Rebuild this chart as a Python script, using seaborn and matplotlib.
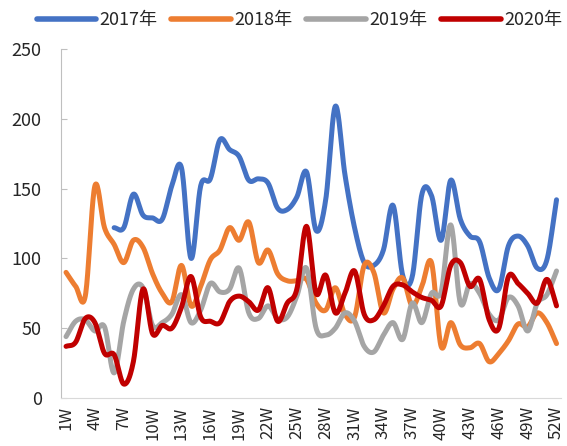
import matplotlib
matplotlib.use("Agg")
import matplotlib.pyplot as plt
import seaborn as sns
import numpy as np
import pandas as pd

nan = np.nan

weeks = list(range(1, 53))
tick_weeks = list(range(1, 53, 3))
tick_labels = [f"{w}W" for w in tick_weeks]

years = ["2017年", "2018年", "2019年", "2020年"]
colors = ["#4472C4", "#ED7D31", "#A5A5A5", "#C00000"]

y2017 = [nan, nan, nan, nan, nan, 122, 122, 146, 131, 129,
         128, 152, 165, 100, 152, 157, 185, 178, 173, 156,
         157, 154, 136, 135, 144, 162, 120, 142, 209, 160,
         122, 97, 95, 106, 138, 88, 87, 146, 145, 113,
         156, 128, 116, 112, 86, 78, 109, 116, 109, 93,
         99, 142]
y2018 = [90, 80, 73, 152, 122, 110, 97, 113, 108, 89,
         75, 69, 95, 66, 80, 99, 106, 122, 113, 126,
         97, 106, 89, 84, 84, 85, 68, 63, 79, 60,
         58, 95, 90, 61, 78, 86, 66, 80, 97, 37,
         54, 38, 36, 39, 26, 32, 41, 53, 51, 61,
         54, 39]
y2019 = [44, 55, 56, 48, 51, 18, 55, 78, 79, 52,
         54, 60, 74, 54, 63, 82, 76, 78, 93, 61,
         57, 66, 57, 58, 73, 93, 50, 45, 50, 61,
         55, 37, 33, 45, 54, 42, 68, 54, 75, 76,
         124, 68, 82, 75, 60, 56, 72, 66, 48, 68,
         74, 91]
y2020 = [37, 40, 57, 54, 32, 31, 10, 26, 78, 46,
         52, 50, 65, 87, 58, 55, 54, 69, 73, 69,
         63, 79, 55, 68, 78, 123, 75, 88, 61, 75,
         91, 60, 56, 66, 80, 81, 76, 72, 70, 66,
         95, 97, 80, 85, 56, 50, 87, 82, 75, 68,
         85, 66]


def smooth(x, y, n=20):
    # catmull-rom, similar to excel's smoothed line
    x = np.asarray(x, float)
    y = np.asarray(y, float)
    px = np.concatenate([[2 * x[0] - x[1]], x, [2 * x[-1] - x[-2]]])
    py = np.concatenate([[2 * y[0] - y[1]], y, [2 * y[-1] - y[-2]]])
    xs, ys = [], []
    t = np.linspace(0, 1, n, endpoint=False)
    for i in range(1, len(px) - 2):
        for p, out in ((px, xs), (py, ys)):
            p0, p1, p2, p3 = p[i - 1], p[i], p[i + 1], p[i + 2]
            out.extend(0.5 * (2 * p1 + (-p0 + p2) * t
                              + (2 * p0 - 5 * p1 + 4 * p2 - p3) * t ** 2
                              + (-p0 + 3 * p1 - 3 * p2 + p3) * t ** 3))
    xs.append(x[-1])
    ys.append(y[-1])
    return np.array(xs), np.array(ys)


frames = []
for name, vals in zip(years, [y2017, y2018, y2019, y2020]):
    s = pd.Series(vals, index=weeks).dropna()
    sx, sy = smooth(s.index.values, s.values)
    frames.append(pd.DataFrame({"week": sx, "value": sy, "year": name}))
df = pd.concat(frames, ignore_index=True)

sns.set_style("white")
plt.rcParams['font.family'] = ['Noto Sans CJK SC', 'DejaVu Sans']

fig = plt.figure(figsize=(5.67, 4.46), dpi=100)
ax = fig.add_axes([0.108, 0.1076, 0.882, 0.7825])

sns.lineplot(data=df, x="week", y="value", hue="year", hue_order=years,
             palette=colors, sort=False, estimator=None, linewidth=3.6,
             ax=ax, legend=False)

ax.set_xlim(0.5, 52.5)
ax.set_ylim(0, 250)
ax.set_yticks(range(0, 251, 50))
ax.set_xticks(tick_weeks)
ax.set_xticklabels(tick_labels, rotation=90)
ax.set_xlabel("")
ax.set_ylabel("")
ax.tick_params(axis="y", direction="in", length=4, color="#bfbfbf",
               labelsize=13, pad=14, left=True)
ax.tick_params(axis="x", length=0, labelsize=12, pad=6)
for side in ["top", "right"]:
    ax.spines[side].set_visible(False)
ax.spines["left"].set_color("#bfbfbf")
ax.spines["bottom"].set_color("#d9d9d9")

handles = [plt.Line2D([], [], color=c, linewidth=4) for c in colors]
fig.legend(handles, years, loc="center", bbox_to_anchor=(0.528, 0.955),
           ncol=4, frameon=False, fontsize=13, handlelength=3.3,
           handletextpad=0.2, columnspacing=0.75, borderpad=0.1)

fig.savefig("out.png", dpi=100)
